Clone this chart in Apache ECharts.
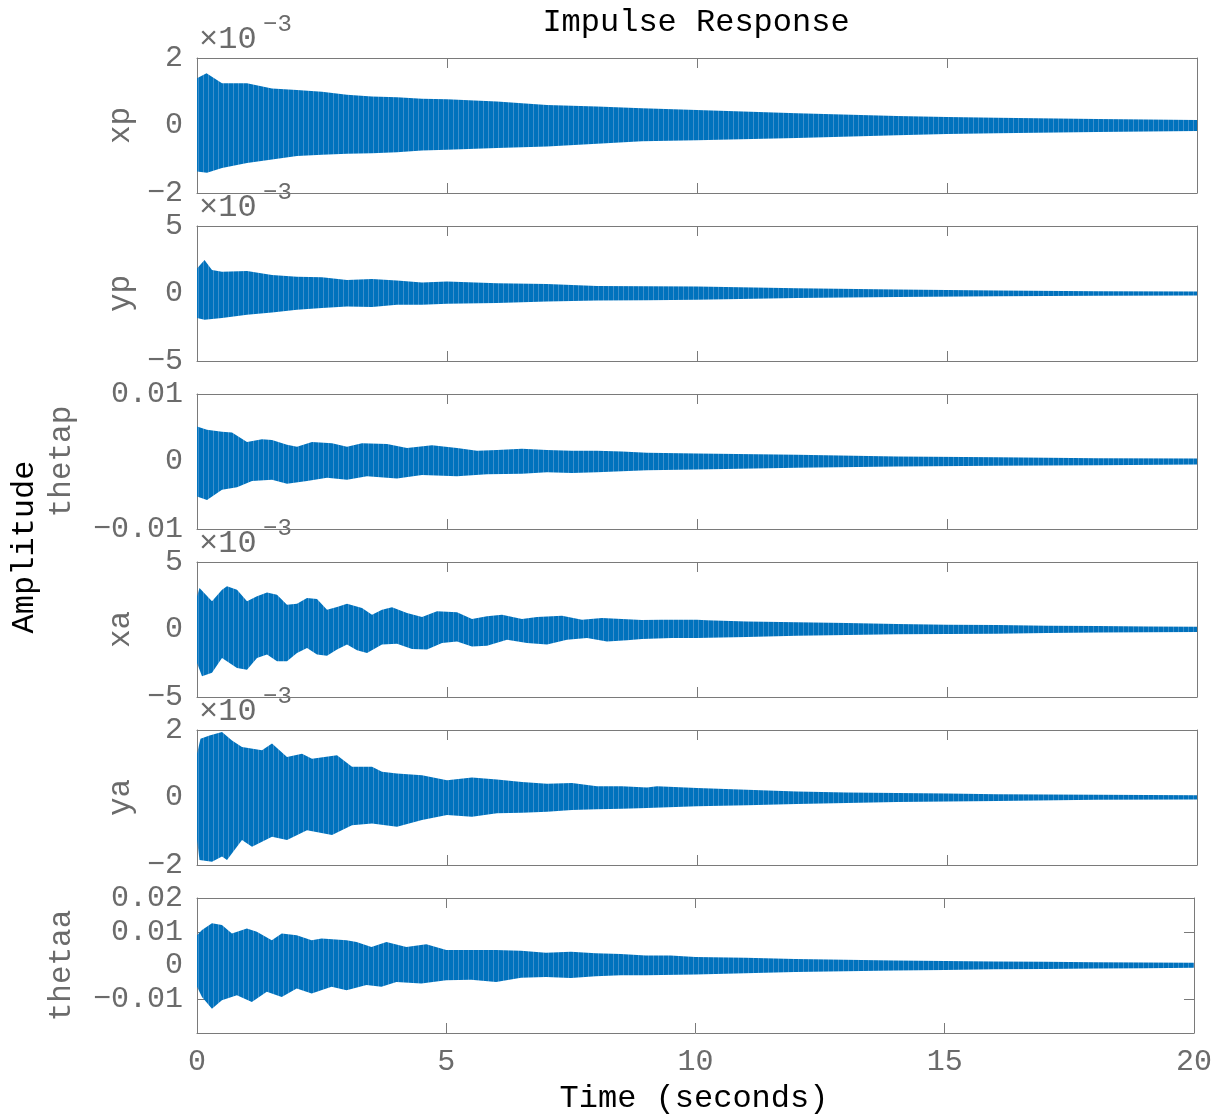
<!DOCTYPE html>
<html><head><meta charset="utf-8">
<script src="https://cdn.jsdelivr.net/npm/echarts@6/dist/echarts.min.js"></script>
<style>html,body{margin:0;padding:0;background:#fff}#c{width:1215px;height:1114px}</style>
</head><body><div id="c"></div>
<script>
// Time axis
const timeTicks = [0, 5, 10, 15, 20];
// Envelope (upper / lower peaks) of each response, values in units of 1e-3, [time (s), value]
const xpUpper = [[0,1.40],[0.19,1.55],[0.5,1.25],[1,1.25],[1.5,1.10],[2,1.05],[2.5,1.0],[3,0.91],[3.5,0.86],[4,0.84],[4.5,0.79],[5,0.78],[6,0.71],[7,0.61],[8,0.56],[8.9,0.51],[10,0.46],[12,0.36],[14,0.28],[15,0.25],[16,0.23],[18,0.19],[20,0.16]];
const xpLower = [[0,-1.36],[0.2,-1.40],[0.5,-1.26],[1,-1.11],[1.5,-1.01],[2,-0.90],[2.5,-0.87],[3,-0.84],[3.5,-0.82],[4,-0.79],[4.5,-0.74],[5,-0.72],[6,-0.67],[7,-0.62],[8,-0.54],[8.9,-0.47],[10,-0.44],[12,-0.37],[14,-0.29],[15,-0.25],[16,-0.23],[18,-0.19],[20,-0.16]];
const ypUpper = [[0,1.86],[0.15,2.48],[0.3,1.74],[0.5,1.62],[1,1.67],[1.5,1.37],[2,1.25],[2.5,1.2],[3,1.0],[3.5,1.08],[4,0.96],[4.5,0.81],[5,0.88],[6,0.76],[7,0.71],[8,0.56],[9,0.53],[10,0.51],[12,0.39],[14,0.29],[16,0.22],[18,0.17],[20,0.15]];
const ypLower = [[0,-1.81],[0.15,-1.94],[0.5,-1.81],[1,-1.57],[1.5,-1.40],[2,-1.20],[2.5,-1.08],[3,-0.96],[3.5,-1.0],[4,-0.83],[4.5,-0.83],[5,-0.76],[6,-0.71],[7,-0.59],[8,-0.51],[9,-0.50],[10,-0.47],[12,-0.34],[14,-0.25],[16,-0.20],[18,-0.17],[20,-0.15]];
const thetapUpper = [[0,5.2],[0.2,4.7],[0.5,4.4],[0.7,4.3],[1,2.9],[1.3,3.3],[1.5,3.2],[1.8,2.5],[2,2.2],[2.3,2.9],[2.7,2.7],[3,2.2],[3.3,2.7],[3.8,2.6],[4.2,2.0],[4.7,2.4],[5.2,2.0],[5.6,1.6],[6,1.7],[6.5,1.9],[7,1.7],[7.5,1.6],[8,1.6],[8.5,1.5],[9,1.3],[10,1.2],[12,1.0],[14,0.74],[16,0.64],[18,0.49],[20,0.44]];
const thetapLower = [[0,-5.2],[0.2,-5.7],[0.5,-4.2],[0.8,-3.8],[1.1,-2.9],[1.5,-2.7],[1.8,-3.3],[2.2,-2.9],[2.6,-2.4],[3,-2.7],[3.4,-2.2],[4,-2.5],[4.5,-2.0],[5.2,-2.2],[5.8,-1.9],[6.5,-1.8],[7,-1.6],[7.5,-1.7],[8,-1.6],[9,-1.3],[10,-1.2],[12,-0.93],[14,-0.74],[16,-0.64],[18,-0.54],[20,-0.44]];
const xaUpper = [[0,2.46],[0.05,3.07],[0.3,2.1],[0.5,2.95],[0.6,3.2],[0.8,2.95],[1,2.1],[1.2,2.46],[1.4,2.75],[1.6,2.58],[1.8,1.84],[2.0,1.91],[2.2,2.33],[2.4,2.26],[2.6,1.47],[2.8,1.67],[3.0,1.91],[3.3,1.59],[3.5,1.10],[3.7,1.47],[3.9,1.64],[4.2,1.22],[4.5,0.93],[4.8,1.35],[5.2,1.27],[5.5,0.78],[5.8,0.98],[6.1,1.10],[6.5,0.78],[6.8,0.93],[7.3,1.02],[7.7,0.73],[8.1,0.85],[8.5,0.78],[8.9,0.70],[9.3,0.73],[10,0.73],[10.2,0.68],[11,0.60],[12,0.53],[13,0.48],[14,0.41],[15,0.36],[16,0.33],[17,0.28],[18,0.26],[19,0.23],[20,0.21]];
const xaLower = [[0,-2.48],[0.1,-3.46],[0.3,-3.21],[0.5,-2.11],[0.8,-2.85],[1,-2.98],[1.2,-2.11],[1.4,-1.86],[1.6,-2.35],[1.8,-2.35],[2.0,-1.74],[2.2,-1.37],[2.4,-1.86],[2.6,-1.94],[2.8,-1.49],[3.0,-1.12],[3.2,-1.54],[3.4,-1.74],[3.7,-1.12],[4.0,-1.05],[4.3,-1.44],[4.6,-1.49],[4.9,-1.00],[5.2,-0.88],[5.5,-1.25],[5.8,-1.20],[6.2,-0.75],[6.6,-1.00],[7.0,-1.12],[7.4,-0.75],[7.8,-0.63],[8.2,-0.88],[8.6,-0.80],[8.9,-0.70],[9.5,-0.63],[10,-0.63],[11,-0.56],[12,-0.46],[13,-0.41],[14,-0.36],[15,-0.33],[16,-0.31],[17,-0.26],[18,-0.23],[19,-0.21],[20,-0.19]];
const yaUpper = [[0,1.30],[0.07,1.74],[0.25,1.84],[0.5,1.94],[0.7,1.69],[0.9,1.50],[1.3,1.40],[1.5,1.60],[1.8,1.20],[2.1,1.30],[2.3,1.15],[2.8,1.25],[3.1,0.91],[3.5,0.91],[3.7,0.76],[4.0,0.71],[4.5,0.66],[5.0,0.51],[5.5,0.59],[6.0,0.53],[6.5,0.46],[7.0,0.41],[7.5,0.43],[8.0,0.33],[8.5,0.33],[9.0,0.30],[9.2,0.33],[10,0.28],[11,0.23],[12,0.18],[13,0.15],[14,0.13],[15,0.12],[16,0.10],[18,0.08],[20,0.07]];
const yaLower = [[0,-1.26],[0.05,-1.85],[0.3,-1.90],[0.5,-1.75],[0.6,-1.85],[0.9,-1.26],[1.1,-1.46],[1.5,-1.16],[1.8,-1.26],[2.2,-0.97],[2.7,-1.11],[3.1,-0.82],[3.5,-0.77],[4.0,-0.87],[4.5,-0.67],[5.0,-0.52],[5.5,-0.57],[6.0,-0.47],[6.5,-0.45],[7.0,-0.42],[7.5,-0.37],[8.0,-0.35],[8.5,-0.33],[9.0,-0.31],[10,-0.26],[11,-0.23],[12,-0.19],[13,-0.16],[14,-0.13],[16,-0.10],[18,-0.07],[20,-0.06]];
const thetaaUpper = [[0,9.0],[0.1,10.5],[0.3,12.5],[0.5,12.0],[0.7,9.5],[1.0,11.0],[1.2,10.0],[1.5,7.5],[1.7,9.5],[2.0,9.0],[2.3,7.5],[2.5,8.0],[3.0,7.5],[3.2,7.0],[3.5,5.5],[3.8,7.0],[4.2,5.5],[4.6,6.3],[5.0,4.6],[5.5,4.6],[6.0,4.6],[6.5,4.4],[7.0,3.8],[7.5,4.1],[8.0,3.6],[8.5,3.4],[9.0,3.0],[9.5,3.0],[10,2.5],[11,2.3],[12,1.9],[13,1.7],[14,1.5],[15,1.3],[16,1.2],[17,1.1],[18,1.0],[19,0.9],[20,0.8]];
const thetaaLower = [[0,-6.3],[0.1,-9.3],[0.3,-12.8],[0.5,-10.3],[0.8,-8.8],[1.1,-10.8],[1.4,-7.8],[1.7,-9.3],[2.0,-6.8],[2.3,-8.3],[2.7,-6.3],[3.0,-7.3],[3.4,-5.8],[3.7,-6.3],[4.0,-4.9],[4.5,-5.3],[5.0,-4.4],[5.5,-4.2],[6.0,-4.9],[6.5,-3.6],[7.0,-3.4],[7.5,-3.7],[8.0,-3.2],[8.5,-2.9],[9.0,-2.9],[10,-2.7],[11,-2.3],[12,-1.9],[13,-1.7],[14,-1.5],[15,-1.3],[16,-1.1],[17,-1.0],[18,-0.9],[19,-0.8],[20,-0.7]];

const channelNames = ['xp','yp','thetap','xa','ya','thetaa'];
const yMins = [-2,-5,-10,-5,-2,-20];
const yMaxs = [2,5,10,5,2,20];
const yIntervals = [2,5,10,5,2,10];
const showExponent = [true,true,false,true,true,false];

const envelopes = [[xpUpper,xpLower],[ypUpper,ypLower],[thetapUpper,thetapLower],[xaUpper,xaLower],[yaUpper,yaLower],[thetaaUpper,thetaaLower]];

const LINE = '#7a7a7a', TXT = '#6b6b6b', BLUE = '#0072BD';
const FONT = '"Liberation Mono", "DejaVu Sans Mono", monospace';
const tops = [58,226,394,562,730,898];
const H = 135, L = 197, W = 1000;

// striped fill to suggest the dense oscillation of the trace
const pat = document.createElement('canvas');
pat.width = 5; pat.height = 1;
(function(){
  const g = pat.getContext('2d');
  g.fillStyle = BLUE; g.fillRect(0,0,5,1);
  g.fillStyle = '#3f8fcb'; g.fillRect(3,0,1,1);
})();

function minus(s){ return s.replace('-', '\u2212'); }
function fmtFor(i){
  if (showExponent[i]) return v => minus(String(v));
  if (i === 5) return v => v === -20 ? '' : (v === 0 ? '0' : minus((v/1000).toFixed(2)));
  return v => v === 0 ? '0' : minus((v/1000).toFixed(2));
}

const grid=[], xAxis=[], yAxis=[], series=[], graphic=[];
channelNames.forEach((nm,i)=>{
  grid.push({left:L, top:tops[i], width:W, height:H, containLabel:false});
  const tick = {show:true, inside:true, length:10, lineStyle:{color:LINE,width:1}};
  xAxis.push({gridIndex:i, type:'value', min:0, max:20, interval:5, position:'bottom',
    axisLine:{show:true, onZero:false, lineStyle:{color:LINE,width:1}}, axisTick:tick,
    splitLine:{show:false},
    axisLabel:{show:i===5, margin:14, color:TXT, fontFamily:FONT, fontSize:30, formatter:v=>String(v)}});
  xAxis.push({gridIndex:i, type:'value', min:0, max:20, interval:5, position:'top',
    axisLine:{show:true, onZero:false, lineStyle:{color:LINE,width:1}}, axisTick:tick,
    splitLine:{show:false}, axisLabel:{show:false}});
  yAxis.push({gridIndex:i, type:'value', min:yMins[i], max:yMaxs[i], interval:yIntervals[i], position:'left',
    axisLine:{show:true, onZero:false, lineStyle:{color:LINE,width:1}}, axisTick:tick,
    splitLine:{show:false},
    axisLabel:{show:true, margin:14, color:TXT, fontFamily:FONT, fontSize:30, formatter:fmtFor(i)}});
  yAxis.push({gridIndex:i, type:'value', min:yMins[i], max:yMaxs[i], interval:yIntervals[i], position:'right',
    axisLine:{show:true, onZero:false, lineStyle:{color:LINE,width:1}}, axisTick:tick,
    splitLine:{show:false}, axisLabel:{show:false}});
  const up = envelopes[i][0], lo = envelopes[i][1];
  series.push({type:'custom', xAxisIndex:2*i, yAxisIndex:2*i, clip:true, silent:true,
    data:[[0,0]],
    renderItem:(params, api)=>{
      const pts = up.map(p=>api.coord(p)).concat(lo.slice().reverse().map(p=>api.coord(p)));
      return {type:'polygon', shape:{points:pts}, style:{fill:{image:pat, repeat:'repeat'}}};
    }});
  const nx = (nm.length > 2) ? 62 : 121;
  graphic.push({type:'text', x:nx, y:tops[i]+H/2, rotation:Math.PI/2,
    style:{text:nm, font:'31px '+FONT, fill:TXT, align:'center', verticalAlign:'middle'}});
  if (showExponent[i]) {
    graphic.push({type:'text', x:199, y:tops[i]-18,
      style:{text:'\u00d710', font:'32px '+FONT, fill:TXT, align:'left', verticalAlign:'middle'}});
    graphic.push({type:'text', x:263, y:tops[i]-33,
      style:{text:'\u22123', font:'24px '+FONT, fill:TXT, align:'left', verticalAlign:'middle'}});
  }
});
graphic.push({type:'text', x:696, y:23, style:{text:'Impulse Response', font:'32px '+FONT, fill:'#000', align:'center', verticalAlign:'middle'}});
graphic.push({type:'text', x:694, y:1099, style:{text:'Time (seconds)', font:'32px '+FONT, fill:'#000', align:'center', verticalAlign:'middle'}});
graphic.push({type:'text', x:25, y:547, rotation:Math.PI/2, style:{text:'Amplitude', font:'32px '+FONT, fill:'#000', align:'center', verticalAlign:'middle'}});

const chart = echarts.init(document.getElementById('c'), null, {renderer:'canvas'});
chart.setOption({animation:false, backgroundColor:'#fff', grid, xAxis, yAxis, series, graphic});
</script></body></html>
